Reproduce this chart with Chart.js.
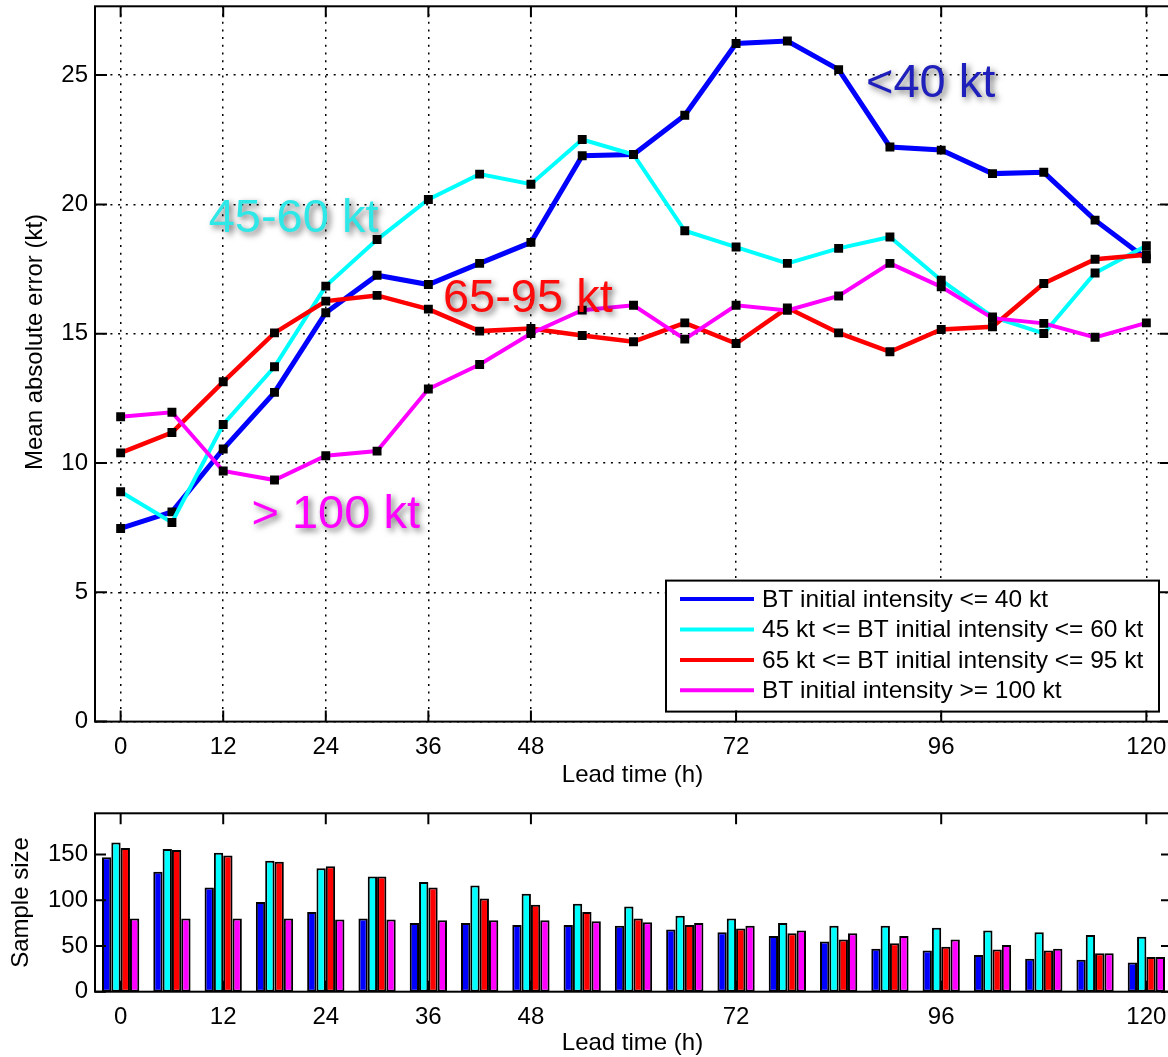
<!DOCTYPE html>
<html>
<head>
<meta charset="utf-8">
<title>Intensity error by lead time</title>
<script src="https://cdn.jsdelivr.net/npm/chart.js@4.4.1/dist/chart.umd.min.js"></script>
<style>
  html, body { margin: 0; padding: 0; background: #fff; overflow: hidden; width: 1168px; height: 1057px; }
  canvas { position: absolute; left: 0; }
  #errChart { top: 0; }
  #sizeChart { top: 800px; }
</style>
</head>
<body>
<canvas id="errChart" width="1180" height="800"></canvas>
<canvas id="sizeChart" width="1180" height="257"></canvas>
<script>
// Lead times (h)
const leadTimes = [0, 6, 12, 18, 24, 30, 36, 42, 48, 54, 60, 66, 72, 78, 84, 90, 96, 102, 108, 114, 120];

// Mean absolute intensity error (kt) by initial best-track intensity class
const errWeak     = [7.47, 8.11, 10.54, 12.73, 15.81, 17.26, 16.90, 17.72, 18.53, 21.88, 21.93, 23.45, 26.22, 26.32, 25.21, 22.22, 22.10, 21.19, 21.24, 19.39, 17.90];
const errModerate = [8.89, 7.70, 11.49, 13.72, 16.84, 18.64, 20.19, 21.17, 20.78, 22.51, 21.93, 18.98, 18.35, 17.72, 18.30, 18.74, 17.07, 15.65, 15.01, 17.35, 18.40];
const errStrong   = [10.39, 11.18, 13.14, 15.03, 16.26, 16.48, 15.95, 15.10, 15.20, 14.93, 14.69, 15.42, 14.62, 16.00, 15.03, 14.30, 15.16, 15.27, 16.94, 17.88, 18.05];
const errIntense  = [11.79, 11.96, 9.69, 9.34, 10.28, 10.46, 12.86, 13.81, 15.01, 15.91, 16.10, 14.79, 16.10, 15.90, 16.46, 17.72, 16.81, 15.60, 15.40, 14.86, 15.42];

// Number of cases in each class
const nWeak     = [147, 131, 114, 98, 87, 80, 75, 75, 73, 73, 72, 68, 65, 61, 55, 47, 45, 40, 36, 35, 32];
const nModerate = [163, 156, 152, 143, 135, 126, 120, 116, 107, 96, 93, 83, 80, 75, 72, 72, 70, 67, 65, 62, 60];
const nStrong   = [157, 155, 149, 142, 137, 126, 114, 102, 95, 87, 80, 73, 69, 64, 57, 53, 49, 46, 45, 42, 38];
const nIntense  = [80, 80, 80, 80, 79, 79, 78, 78, 78, 77, 76, 75, 72, 67, 64, 61, 57, 51, 47, 42, 38];

// Class names and colours
const classLabels = [
  'BT initial intensity <= 40 kt',
  '45 kt <= BT initial intensity <= 60 kt',
  '65 kt <= BT initial intensity <= 95 kt',
  'BT initial intensity >= 100 kt'
];
const classColors = ['#0000ff', '#00ffff', '#ff0000', '#ff00ff'];

// Axis ticks
const leadTickValues = [0, 12, 24, 36, 48, 72, 96, 120];
const errTickValues = [0, 5, 10, 15, 20, 25];
const sizeTickValues = [0, 50, 100, 150];

// In-plot class tags
const tagTexts = ['<40 kt', '45-60 kt', '65-95 kt', '> 100 kt'];
const tagLead  = [87.2, 10.3, 37.7, 15.3];
const tagError = [24.16, 18.93, 15.83, 7.48];
const tagColors = ['#1f1fbb', '#2ee8e8', '#ff0a0a', '#ff00ff'];

const FONT = '"Liberation Sans", Arial, Helvetica, sans-serif';
Chart.defaults.font.family = FONT;
Chart.defaults.color = '#000';

const pairs = (xs, ys) => xs.map((x, i) => ({ x: x, y: ys[i] }));
const fixedTicks = values => scale => { scale.ticks = values.map(v => ({ value: v })); };
const fixWidth = w => scale => { scale.width = w; scale.paddingTop = 0; scale.paddingBottom = 0; };
const fixHeight = h => scale => { scale.height = h; scale.paddingLeft = 0; scale.paddingRight = 0; };

// Box frame with inward ticks on all four sides, plus axis titles
const boxAxes = {
  id: 'boxAxes',
  afterDraw(chart, args, o) {
    const { ctx, chartArea: a } = chart;
    const x = chart.scales.x, y = chart.scales.y;
    ctx.save();
    ctx.strokeStyle = '#000';
    ctx.lineWidth = 2;
    ctx.beginPath();
    x.ticks.forEach(t => {
      const px = x.getPixelForValue(t.value);
      ctx.moveTo(px, a.bottom); ctx.lineTo(px, a.bottom - o.xTickLen);
      ctx.moveTo(px, a.top); ctx.lineTo(px, a.top + o.xTickLen);
    });
    y.ticks.forEach(t => {
      const py = y.getPixelForValue(t.value);
      ctx.moveTo(a.left, py); ctx.lineTo(a.left + o.yTickLen, py);
      ctx.moveTo(a.right, py); ctx.lineTo(a.right - o.yTickLen, py);
    });
    ctx.stroke();
    ctx.strokeRect(a.left, a.top, a.right - a.left, a.bottom - a.top);

    ctx.fillStyle = '#000';
    ctx.font = '24px ' + FONT;
    ctx.textAlign = 'center';
    ctx.textBaseline = 'middle';
    ctx.fillText(o.xTitle, (a.left + a.right) / 2 - 1, o.xTitleY);
    ctx.translate(o.yTitleX, o.yTitleY == null ? (a.top + a.bottom) / 2 : o.yTitleY);
    ctx.rotate(-Math.PI / 2);
    ctx.fillText(o.yTitle, 0, 0);
    ctx.restore();
  }
};

// Class tags with a soft drop shadow, placed in data units
const classTags = {
  id: 'classTags',
  afterDatasetsDraw(chart) {
    const { ctx } = chart;
    const x = chart.scales.x, y = chart.scales.y;
    ctx.save();
    ctx.font = '47px ' + FONT;
    ctx.textAlign = 'left';
    ctx.textBaseline = 'alphabetic';
    ctx.shadowColor = 'rgba(0,0,0,0.55)';
    ctx.shadowBlur = 6;
    ctx.shadowOffsetX = 3;
    ctx.shadowOffsetY = 3;
    tagTexts.forEach((txt, i) => {
      ctx.fillStyle = tagColors[i];
      ctx.fillText(txt, x.getPixelForValue(tagLead[i]), y.getPixelForValue(tagError[i]));
    });
    ctx.restore();
  }
};

// Boxed legend in the lower right of the plot area
const boxLegend = {
  id: 'boxLegend',
  afterDatasetsDraw(chart) {
    const { ctx, chartArea: a } = chart;
    const w = 493, h = 131;
    const right = a.right - 13, bottom = a.bottom - 10;
    const left = right - w, top = bottom - h;
    ctx.save();
    ctx.fillStyle = '#fff';
    ctx.fillRect(left, top, w, h);
    ctx.strokeStyle = '#000';
    ctx.lineWidth = 2;
    ctx.strokeRect(left, top, w, h);
    ctx.font = '24.5px ' + FONT;
    ctx.textAlign = 'left';
    ctx.textBaseline = 'middle';
    chart.data.datasets.forEach((ds, i) => {
      const cy = top + 18.5 + i * 30.4;
      ctx.strokeStyle = ds.borderColor;
      ctx.lineWidth = 4;
      ctx.beginPath();
      ctx.moveTo(left + 14, cy);
      ctx.lineTo(left + 88, cy);
      ctx.stroke();
      ctx.fillStyle = '#000';
      ctx.fillText(ds.label, left + 96, cy + 1);
    });
    ctx.restore();
  }
};

const dotted = { color: '#000', lineWidth: 1.5, drawTicks: false };
const lineWidths = [5, 4, 4.5, 4];
const errSeries = [errWeak, errModerate, errStrong, errIntense];

new Chart(document.getElementById('errChart'), {
  type: 'line',
  data: {
    datasets: errSeries.map((vals, i) => ({
      label: classLabels[i],
      data: pairs(leadTimes, vals),
      borderColor: classColors[i],
      backgroundColor: classColors[i],
      borderWidth: lineWidths[i],
      tension: 0,
      pointStyle: 'rect',
      pointRadius: 6.3,
      pointBorderWidth: 0,
      pointBackgroundColor: '#000',
      order: 3 - i
    }))
  },
  options: {
    responsive: false,
    animation: false,
    events: [],
    layout: { padding: { top: 6, right: 8, left: 0, bottom: 0 } },
    plugins: {
      legend: { display: false },
      tooltip: { enabled: false },
      boxAxes: { xTitle: 'Lead time (h)', yTitle: 'Mean absolute error (kt)', xTitleY: 775, yTitleX: 35, yTitleY: 342, xTickLen: 11, yTickLen: 12 }
    },
    scales: {
      x: {
        type: 'linear', min: -3, max: 123,
        afterBuildTicks: fixedTicks(leadTickValues),
        afterFit: fixHeight(78.4),
        grid: Object.assign({ borderDash: [2, 5.7] }, dotted),
        border: { display: false, dash: [2, 5.7] },
        ticks: { font: { size: 24 }, padding: 11, maxRotation: 0, autoSkip: false, color: '#000' }
      },
      y: {
        type: 'linear', min: 0, max: 27.66,
        afterBuildTicks: fixedTicks(errTickValues),
        afterFit: fixWidth(95),
        grid: Object.assign({ borderDash: [2, 5.7] }, dotted),
        border: { display: false, dash: [2, 5.7] },
        ticks: { font: { size: 24 }, padding: 7, color: '#000' }
      }
    }
  },
  plugins: [boxLegend, classTags, boxAxes]
});

const sizeSeries = [nWeak, nModerate, nStrong, nIntense];

new Chart(document.getElementById('sizeChart'), {
  type: 'bar',
  data: {
    datasets: sizeSeries.map((vals, i) => ({
      label: classLabels[i],
      data: pairs(leadTimes, vals),
      backgroundColor: classColors[i],
      borderColor: '#000',
      borderWidth: 2,
      borderSkipped: false,
      categoryPercentage: 0.727,
      barPercentage: 1
    }))
  },
  options: {
    responsive: false,
    animation: false,
    events: [],
    layout: { padding: { top: 13.3, right: 8, left: 0, bottom: 0 } },
    plugins: {
      legend: { display: false },
      tooltip: { enabled: false },
      boxAxes: { xTitle: 'Lead time (h)', yTitle: 'Sample size', xTitleY: 243, yTitleX: 21, xTickLen: 11, yTickLen: 11 }
    },
    scales: {
      x: {
        type: 'linear', min: -3, max: 123, offset: false,
        afterBuildTicks: fixedTicks(leadTickValues),
        afterFit: fixHeight(65.3),
        grid: { display: false, drawTicks: false },
        border: { display: false },
        ticks: { font: { size: 24 }, padding: 11, maxRotation: 0, autoSkip: false, color: '#000' }
      },
      y: {
        type: 'linear', min: 0, max: 195,
        afterBuildTicks: fixedTicks(sizeTickValues),
        afterFit: fixWidth(95),
        grid: { display: false, drawTicks: false },
        border: { display: false },
        ticks: { font: { size: 24 }, padding: 7, color: '#000' }
      }
    }
  },
  plugins: [boxAxes]
});
</script>
</body>
</html>
